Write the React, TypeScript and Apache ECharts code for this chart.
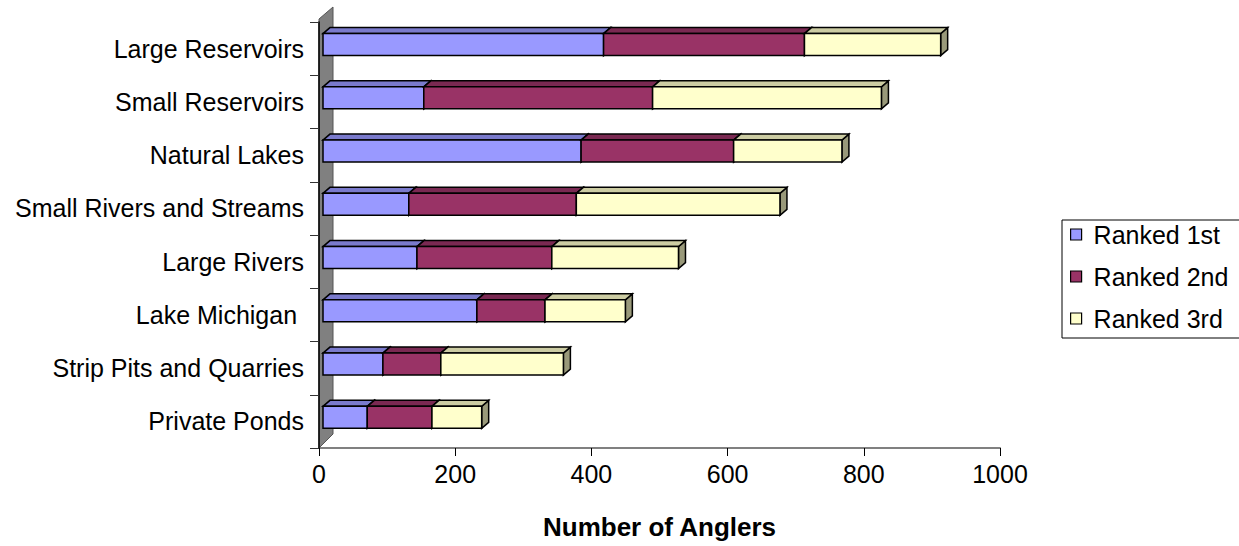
import React, { useEffect, useRef } from "react";
import * as echarts from "echarts";

const categories = [
  "Large Reservoirs",
  "Small Reservoirs",
  "Natural Lakes",
  "Small Rivers and Streams",
  "Large Rivers",
  "Lake Michigan ",
  "Strip Pits and Quarries",
  "Private Ponds",
];
const ranked1st = [412, 148, 379, 126, 138, 226, 88, 65];
const ranked2nd = [295, 336, 224, 246, 198, 100, 85, 95];
const ranked3rd = [200, 336, 159, 299, 186, 118, 180, 73];
const xTicks = { min: 0, max: 1000, interval: 200 };

const FONT = "'Liberation Sans', Arial, sans-serif";
const GRID = { left: 319, top: 22, width: 681, height: 426 };

function stacked(values: number[], base: number[]) {
  return values.map((v, i) => [i, base[i], base[i] + v]);
}

function makeRender(front: string, top: string, side: string) {
  return (params: any, api: any) => {
    const idx = api.value(0);
    const s = api.value(1);
    const e = api.value(2);
    const a = api.coord([s, idx]);
    const b = api.coord([e, idx]);
    const band = api.size([0, 1])[1];
    const cy = a[1];
    const x0 = a[0] + 4;
    const x1 = b[0] + 4;
    const yt = cy - 0.282 * band;
    const yb = cy + 0.131 * band;
    const dx = 7;
    const dy = -6;
    const stroke = { stroke: "#000", lineWidth: 1.5, lineJoin: "miter" };
    return {
      type: "group",
      children: [
        {
          type: "polygon",
          shape: { points: [[x1, yt], [x1 + dx, yt + dy], [x1 + dx, yb + dy], [x1, yb]] },
          style: { fill: side, ...stroke },
        },
        {
          type: "polygon",
          shape: { points: [[x0, yt], [x1, yt], [x1 + dx, yt + dy], [x0 + dx, yt + dy]] },
          style: { fill: top, ...stroke },
        },
        {
          type: "rect",
          shape: { x: x0, y: yt, width: x1 - x0, height: yb - yt },
          style: { fill: front, ...stroke },
        },
      ],
    };
  };
}

export default function App() {
  const ref = useRef<HTMLDivElement>(null);
  useEffect(() => {
    document.body.style.margin = "0";
    const chart = echarts.init(ref.current!, null, { renderer: "svg" });
    const zero = categories.map(() => 0);
    const base2 = ranked1st.map((v) => v);
    const base3 = ranked1st.map((v, i) => v + ranked2nd[i]);
    const L = GRID.left;
    const T = GRID.top;
    const B = GRID.top + GRID.height;
    chart.setOption({
      animation: false,
      backgroundColor: "#fff",
      textStyle: { fontFamily: FONT },
      grid: { ...GRID, containLabel: false },
      graphic: [
        {
          type: "polygon",
          z: 0,
          shape: { points: [[L, B], [L, T - 3], [L + 14, T - 15], [L + 14, B - 14]] },
          style: { fill: "#808080", stroke: "#555", lineWidth: 1 },
        },
      ],
      legend: {
        orient: "vertical",
        left: 1062,
        top: 220,
        padding: [1, 16, 6, 8],
        itemWidth: 11,
        itemHeight: 11,
        itemGap: 15,
        icon: "rect",
        selectedMode: false,
        borderColor: "#000",
        borderWidth: 1,
        backgroundColor: "#fff",
        itemStyle: { borderColor: "#000", borderWidth: 1.2 },
        textStyle: { fontSize: 25, fontFamily: FONT, color: "#000", padding: [0, 0, 0, 7], lineHeight: 27 },
        data: ["Ranked 1st", "Ranked 2nd", "Ranked 3rd"],
      },
      xAxis: {
        type: "value",
        min: xTicks.min,
        max: xTicks.max,
        interval: xTicks.interval,
        name: "Number of Anglers",
        nameLocation: "middle",
        nameGap: 66,
        nameTextStyle: { fontSize: 26, fontWeight: "bold", color: "#000", fontFamily: FONT },
        axisLine: { show: true, lineStyle: { color: "#808080", width: 2 } },
        axisTick: { show: true, length: 8, lineStyle: { color: "#000", width: 1 } },
        axisLabel: {
          fontSize: 25,
          color: "#000",
          margin: 13,
          fontFamily: FONT,
          formatter: (v: number) => String(v),
        },
        splitLine: { show: false },
      },
      yAxis: {
        type: "category",
        inverse: true,
        data: categories,
        axisLine: { show: true, lineStyle: { color: "#000", width: 1.5 } },
        axisTick: { show: true, length: 9, lineStyle: { color: "#333", width: 1 } },
        axisLabel: { fontSize: 25, color: "#000", margin: 15, fontFamily: FONT },
        z: 3,
      },
      series: [
        {
          name: "Ranked 1st",
          type: "custom",
          renderItem: makeRender("#9999FF", "#7A7ACC", "#5C5C99"),
          itemStyle: { color: "#9999FF" },
          encode: { x: [1, 2], y: 0 },
          data: stacked(ranked1st, zero),
          z: 2,
        },
        {
          name: "Ranked 2nd",
          type: "custom",
          renderItem: makeRender("#993366", "#7A2952", "#5C1F3D"),
          itemStyle: { color: "#993366" },
          encode: { x: [1, 2], y: 0 },
          data: stacked(ranked2nd, base2),
          z: 3,
        },
        {
          name: "Ranked 3rd",
          type: "custom",
          renderItem: makeRender("#FFFFCC", "#CCCCA3", "#99997A"),
          itemStyle: { color: "#FFFFCC" },
          encode: { x: [1, 2], y: 0 },
          data: stacked(ranked3rd, base3),
          z: 4,
        },
      ],
    });
    return () => chart.dispose();
  }, []);
  return <div ref={ref} style={{ position: "fixed", left: 0, top: 0, width: 1239, height: 546 }} />;
}
